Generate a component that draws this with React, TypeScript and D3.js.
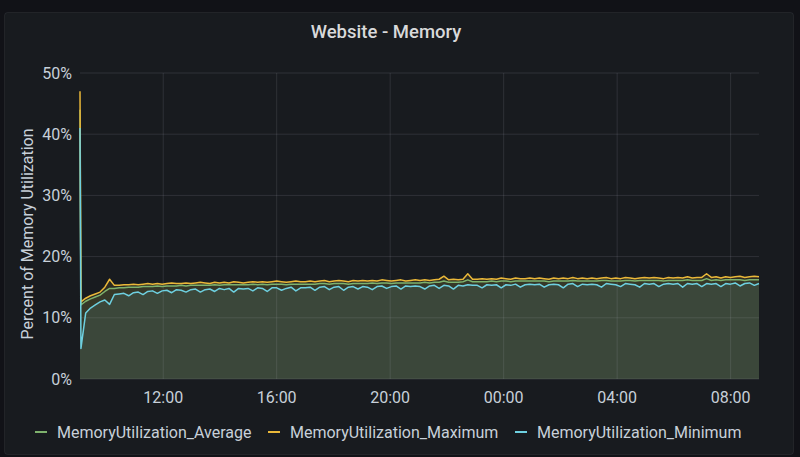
import React from "react";
import * as d3 from "d3";

const TITLE = "Website - Memory";
const Y_LABEL = "Percent of Memory Utilization";
const SERIES_NAMES = ["MemoryUtilization_Average", "MemoryUtilization_Maximum", "MemoryUtilization_Minimum"];
const SERIES_COLORS = ["#7EB26D", "#EAB839", "#6ED0E0"];
const Y_TICKS = [0, 10, 20, 30, 40, 50];
const DOMAIN_START = new Date(2020, 0, 1, 9, 4);
const DOMAIN_END = new Date(2020, 0, 2, 9, 0);
const FIRST_SAMPLE = new Date(2020, 0, 1, 9, 4);
const SECOND_SAMPLE = new Date(2020, 0, 1, 9, 6);
const STEP_SECONDS = 606;

const maxValues = [
  47.0, 12.6, 13.2, 13.6, 13.9, 14.2, 15.0, 16.3, 15.3, 15.3, 15.4, 15.4,
  15.5, 15.4, 15.5, 15.6, 15.5, 15.6, 15.5, 15.6, 15.7, 15.6, 15.6, 15.7,
  15.6, 15.7, 15.8, 15.7, 15.6, 15.8, 15.7, 15.8, 15.7, 15.9, 15.8, 15.7,
  15.8, 15.9, 15.8, 15.9, 15.8, 15.9, 16.0, 15.9, 15.8, 15.9, 16.0, 15.9,
  15.9, 16.0, 15.9, 16.0, 16.1, 15.9, 16.0, 16.1, 16.0, 15.9, 16.1, 16.0,
  16.1, 16.0, 16.1, 16.0, 16.2, 16.1, 16.0, 16.1, 16.2, 16.0, 16.1, 16.2,
  16.1, 16.2, 16.1, 16.2, 16.3, 16.8, 16.2, 16.3, 16.2, 16.3, 17.2, 16.3,
  16.3, 16.4, 16.3, 16.4, 16.3, 16.5, 16.4, 16.3, 16.5, 16.4, 16.4, 16.5,
  16.4, 16.5, 16.4, 16.3, 16.5, 16.4, 16.5, 16.4, 16.6, 16.4, 16.5, 16.4,
  16.5, 16.4, 16.5, 16.6, 16.4, 16.5, 16.4, 16.6, 16.5, 16.4, 16.5, 16.6,
  16.5, 16.6, 16.5, 16.4, 16.6, 16.5, 16.6, 16.5, 16.7, 16.5, 16.6, 16.6,
  17.2, 16.6, 16.7, 16.5, 16.7, 16.6, 16.7, 16.8, 16.6, 16.7, 16.8, 16.7,
];

const avgValues = [
  44.0, 12.1, 12.7, 13.1, 13.4, 13.7, 14.3, 14.8, 14.8, 14.9, 14.9, 15.0,
  15.0, 15.0, 15.1, 15.1, 15.1, 15.2, 15.1, 15.2, 15.2, 15.2, 15.3, 15.2,
  15.3, 15.3, 15.3, 15.3, 15.3, 15.4, 15.3, 15.4, 15.4, 15.4, 15.4, 15.4,
  15.4, 15.5, 15.4, 15.5, 15.4, 15.5, 15.5, 15.5, 15.4, 15.5, 15.5, 15.5,
  15.5, 15.5, 15.5, 15.6, 15.6, 15.5, 15.6, 15.6, 15.6, 15.5, 15.6, 15.6,
  15.6, 15.6, 15.7, 15.6, 15.7, 15.7, 15.6, 15.7, 15.7, 15.7, 15.7, 15.7,
  15.7, 15.8, 15.7, 15.8, 15.8, 16.0, 15.8, 15.8, 15.8, 15.9, 16.2, 15.9,
  15.9, 15.9, 15.9, 16.0, 15.9, 16.0, 16.0, 15.9, 16.0, 16.0, 16.0, 16.0,
  16.0, 16.0, 16.0, 15.9, 16.0, 16.0, 16.0, 16.0, 16.1, 16.0, 16.0, 16.0,
  16.0, 16.0, 16.1, 16.1, 16.0, 16.0, 16.0, 16.1, 16.1, 16.0, 16.1, 16.1,
  16.1, 16.1, 16.1, 16.0, 16.1, 16.1, 16.1, 16.1, 16.2, 16.1, 16.1, 16.1,
  16.4, 16.1, 16.2, 16.1, 16.2, 16.2, 16.2, 16.2, 16.1, 16.2, 16.2, 16.2,
];

const minValues = [
  41.0, 5.0, 10.8, 11.6, 12.1, 12.6, 12.9, 12.2, 13.8, 13.9, 14.0, 13.6,
  14.1, 14.2, 13.8, 14.3, 14.4, 14.0, 14.4, 14.5, 14.1, 14.6, 14.5, 14.2,
  14.6, 14.7, 14.2, 14.6, 14.7, 14.3, 14.8, 14.6, 14.8, 14.2, 14.8, 14.7,
  14.8, 14.4, 14.9, 14.8, 14.3, 14.9, 14.9, 14.5, 14.8, 15.0, 14.4, 14.9,
  14.9, 15.0, 14.5, 15.0, 15.1, 14.6, 15.0, 15.1, 14.5, 15.0, 15.1, 14.7,
  15.1, 15.0, 14.6, 15.1, 15.2, 14.8, 15.1, 15.2, 14.7, 15.2, 15.1, 15.2,
  15.1, 14.7, 15.2, 15.3, 14.8, 15.3, 15.2, 14.7, 15.3, 15.2, 15.4, 15.3,
  15.3, 14.9, 15.4, 15.3, 15.4, 14.9, 15.4, 15.3, 15.5, 15.0, 15.4, 15.5,
  15.4, 15.5, 15.0, 15.4, 15.5, 15.4, 14.9, 15.5, 15.6, 15.1, 15.5, 15.4,
  15.5, 15.4, 15.0, 15.6, 15.5, 15.4, 15.1, 15.6, 15.5, 15.4, 15.0, 15.6,
  15.5, 15.6, 15.1, 15.5, 15.6, 15.5, 15.6, 15.0, 15.6, 15.5, 15.6, 15.1,
  15.6, 15.5, 15.6, 15.1, 15.6, 15.5, 15.7, 15.2, 15.6, 15.7, 15.3, 15.6,
];

const W = 800;
const H = 457;
const M = { left: 80, right: 759, top: 73, bottom: 379 };
const FONT = "Roboto, 'Noto Sans', sans-serif";

export default function App() {
  const x = d3.scaleTime().domain([DOMAIN_START, DOMAIN_END]).range([M.left, M.right]).clamp(true);
  const y = d3.scaleLinear().domain([0, 50]).range([M.bottom, M.top]);
  const timeAt = (i: number) =>
    i === 0 ? FIRST_SAMPLE : d3.timeSecond.offset(SECOND_SAMPLE, (i - 1) * STEP_SECONDS);
  const xTicks = x.ticks(d3.timeHour.every(4) as any);
  const fmt = d3.timeFormat("%H:%M");

  const seriesData = [avgValues, maxValues, minValues];
  const line = d3
    .line<number>()
    .x((_, i) => x(timeAt(i)))
    .y((d) => y(d));
  const area = d3
    .area<number>()
    .x((_, i) => x(timeAt(i)))
    .y0(y(0))
    .y1((d) => y(d));

  const legendItems = [
    { dashX: 35, textX: 57 },
    { dashX: 268, textX: 290 },
    { dashX: 515, textX: 537 },
  ];

  return (
    <div style={{ position: "fixed", left: 0, top: 0, width: W, height: H, background: "#111217" }}>
      <svg width={W} height={H} style={{ display: "block" }}>
        <rect x={0} y={0} width={W} height={H} fill="#111217" />
        <rect x={4.5} y={12.5} width={789} height={442} rx={3} fill="#181b1f" stroke="rgba(204,204,220,0.08)" />
        <text x={386} y={37.5} textAnchor="middle" fill="#d8d9da" fontSize={18.5} fontWeight={500} fontFamily={FONT}>
          {TITLE}
        </text>

        {/* fills */}
        {seriesData.map((d, k) => (
          <path key={"a" + k} d={area(d) || ""} fill={SERIES_COLORS[k]} fillOpacity={0.1} />
        ))}

        {/* grid */}
        {Y_TICKS.map((t) => (
          <line key={"gy" + t} x1={M.left} x2={M.right} y1={y(t)} y2={y(t)} stroke="rgba(204,204,220,0.13)" strokeWidth={1} />
        ))}
        {xTicks.map((t, i) => (
          <line key={"gx" + i} x1={x(t)} x2={x(t)} y1={M.top} y2={M.bottom} stroke="rgba(204,204,220,0.13)" strokeWidth={1} />
        ))}

        {/* lines */}
        {seriesData.map((d, k) => (
          <path key={"l" + k} d={line(d) || ""} fill="none" stroke={SERIES_COLORS[k]} strokeWidth={1.5} strokeLinejoin="round" />
        ))}

        {/* y tick labels */}
        {Y_TICKS.map((t) => (
          <text key={"ty" + t} x={72} y={y(t) + 5.5} textAnchor="end" fill="#c7d0d9" fontSize={16} fontFamily={FONT}>
            {t + "%"}
          </text>
        ))}
        <text
          transform={`translate(33, 234) rotate(-90)`}
          textAnchor="middle"
          fill="#c7d0d9"
          fontSize={16}
          fontFamily={FONT}
        >
          {Y_LABEL}
        </text>

        {/* x tick labels */}
        {xTicks.map((t, i) => (
          <text key={"tx" + i} x={x(t)} y={403} textAnchor="middle" fill="#c7d0d9" fontSize={16} fontFamily={FONT}>
            {fmt(t)}
          </text>
        ))}

        {/* legend */}
        {SERIES_NAMES.map((name, k) => (
          <g key={"lg" + k}>
            <line x1={legendItems[k].dashX} x2={legendItems[k].dashX + 12} y1={432} y2={432} stroke={SERIES_COLORS[k]} strokeWidth={2} />
            <text x={legendItems[k].textX} y={437.5} fill="#c7d0d9" fontSize={16} fontFamily={FONT}>
              {name}
            </text>
          </g>
        ))}
      </svg>
    </div>
  );
}
